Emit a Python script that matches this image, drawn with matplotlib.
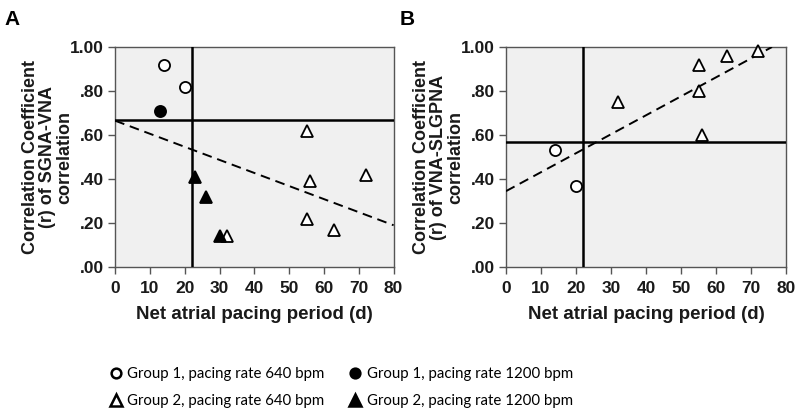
import matplotlib
matplotlib.use("Agg")
import matplotlib.pyplot as plt
from matplotlib.lines import Line2D
import numpy as np

# ---------------- data ----------------
# Panel A
a_g1_640_x = [14, 20]
a_g1_640_y = [0.92, 0.82]
a_g1_1200_x = [13]
a_g1_1200_y = [0.71]
a_g2_640_x = [55, 56, 72, 55, 63, 32]
a_g2_640_y = [0.62, 0.39, 0.42, 0.22, 0.17, 0.14]
a_g2_1200_x = [23, 26, 30]
a_g2_1200_y = [0.41, 0.32, 0.14]
a_vline = 22
a_hline = 0.67
a_fit_x = [0, 80]
a_fit_y = [0.665, 0.19]

# Panel B
b_g1_640_x = [14, 20]
b_g1_640_y = [0.53, 0.37]
b_g2_640_x = [32, 55, 63, 72, 55, 56]
b_g2_640_y = [0.75, 0.92, 0.96, 0.98, 0.80, 0.60]
b_vline = 22
b_hline = 0.57
b_fit_x = [0, 76]
b_fit_y = [0.345, 1.0]

x_ticks = [0, 10, 20, 30, 40, 50, 60, 70, 80]
y_ticks = [0.0, 0.2, 0.4, 0.6, 0.8, 1.0]
y_tick_labels = [".00", ".20", ".40", ".60", ".80", "1.00"]

legend_labels = ["Group 1, pacing rate 640 bpm", "Group 2, pacing rate 640 bpm",
                 "Group 1, pacing rate 1200 bpm", "Group 2, pacing rate 1200 bpm"]

ylabel_a = "Correlation Coefficient\n(r) of SGNA-VNA\ncorrelation"
ylabel_b = "Correlation Coefficient\n(r) of VNA-SLGPNA\ncorrelation"
xlabel = "Net atrial pacing period (d)"

# ---------------- style ----------------
plt.rcParams['font.family'] = ['Liberation Sans', 'DejaVu Sans']
bg = '#f0f0f0'
ms_c = 8
ms_t = 8.5
mew = 1.3

fig = plt.figure(figsize=(8.0, 4.16), dpi=100)
axA = fig.add_axes([0.144, 0.358, 0.348, 0.529])
axB = fig.add_axes([0.6325, 0.358, 0.35, 0.529])


def style(ax, ylabel):
    ax.set_facecolor(bg)
    ax.set_xlim(0, 80)
    ax.set_ylim(0, 1.0)
    ax.set_xticks(x_ticks)
    ax.set_yticks(y_ticks)
    ax.set_yticklabels(y_tick_labels)
    ax.tick_params(direction='out', length=5, width=1, color='#555555',
                   labelcolor='#1a1a1a', pad=3)
    ax.tick_params(axis='x', pad=5)
    for lab in ax.get_xticklabels() + ax.get_yticklabels():
        lab.set_fontweight('bold')
        lab.set_fontsize(12.5)
    for s in ax.spines.values():
        s.set_color('#555555')
        s.set_linewidth(1)
    ax.set_xlabel(xlabel, fontsize=13.5, fontweight='bold', labelpad=7, color='#1a1a1a')
    ax.set_ylabel(ylabel, fontsize=13, fontweight='bold', labelpad=-2,
                  linespacing=1.0, color='#1a1a1a')


def pts(ax, x, y, marker, filled):
    ax.plot(x, y, linestyle='none', marker=marker,
            markersize=ms_c if marker == 'o' else ms_t,
            markerfacecolor='black' if filled else 'white',
            markeredgecolor='black', markeredgewidth=mew, zorder=5, clip_on=False)


# Panel A
style(axA, ylabel_a)
axA.axvline(a_vline, color='black', lw=1.8, zorder=3)
axA.axhline(a_hline, color='black', lw=1.8, zorder=3)
axA.plot(a_fit_x, a_fit_y, color='black', lw=1.4, ls=(0, (5, 3)), zorder=4)
pts(axA, a_g1_640_x, a_g1_640_y, 'o', False)
pts(axA, a_g1_1200_x, a_g1_1200_y, 'o', True)
pts(axA, a_g2_640_x, a_g2_640_y, '^', False)
pts(axA, a_g2_1200_x, a_g2_1200_y, '^', True)

# Panel B
style(axB, ylabel_b)
axB.axvline(b_vline, color='black', lw=1.8, zorder=3)
axB.axhline(b_hline, color='black', lw=1.8, zorder=3)
axB.plot(b_fit_x, b_fit_y, color='black', lw=1.4, ls=(0, (5, 3)), zorder=4)
pts(axB, b_g1_640_x, b_g1_640_y, 'o', False)
pts(axB, b_g2_640_x, b_g2_640_y, '^', False)

fig.text(0.006, 0.975, "A", fontsize=15, fontweight='bold', va='top', ha='left')
fig.text(0.5, 0.975, "B", fontsize=15, fontweight='bold', va='top', ha='left')

# Legend
handles = [
    Line2D([], [], ls='none', marker='o', markersize=7, mfc='white', mec='black', mew=1.8),
    Line2D([], [], ls='none', marker='^', markersize=8, mfc='white', mec='black', mew=1.8),
    Line2D([], [], ls='none', marker='o', markersize=7, mfc='black', mec='black', mew=1.8),
    Line2D([], [], ls='none', marker='^', markersize=8, mfc='black', mec='black', mew=1.8),
]
fig.legend(handles, legend_labels, ncol=2, loc='center left',
           bbox_to_anchor=(0.13, 0.068), frameon=False,
           prop={'family': ['Lato', 'DejaVu Sans'], 'size': 10.8},
           handlelength=0.6, handletextpad=0.45, columnspacing=1.75,
           labelspacing=0.9, borderpad=0)

fig.savefig("out.png", dpi=100)
